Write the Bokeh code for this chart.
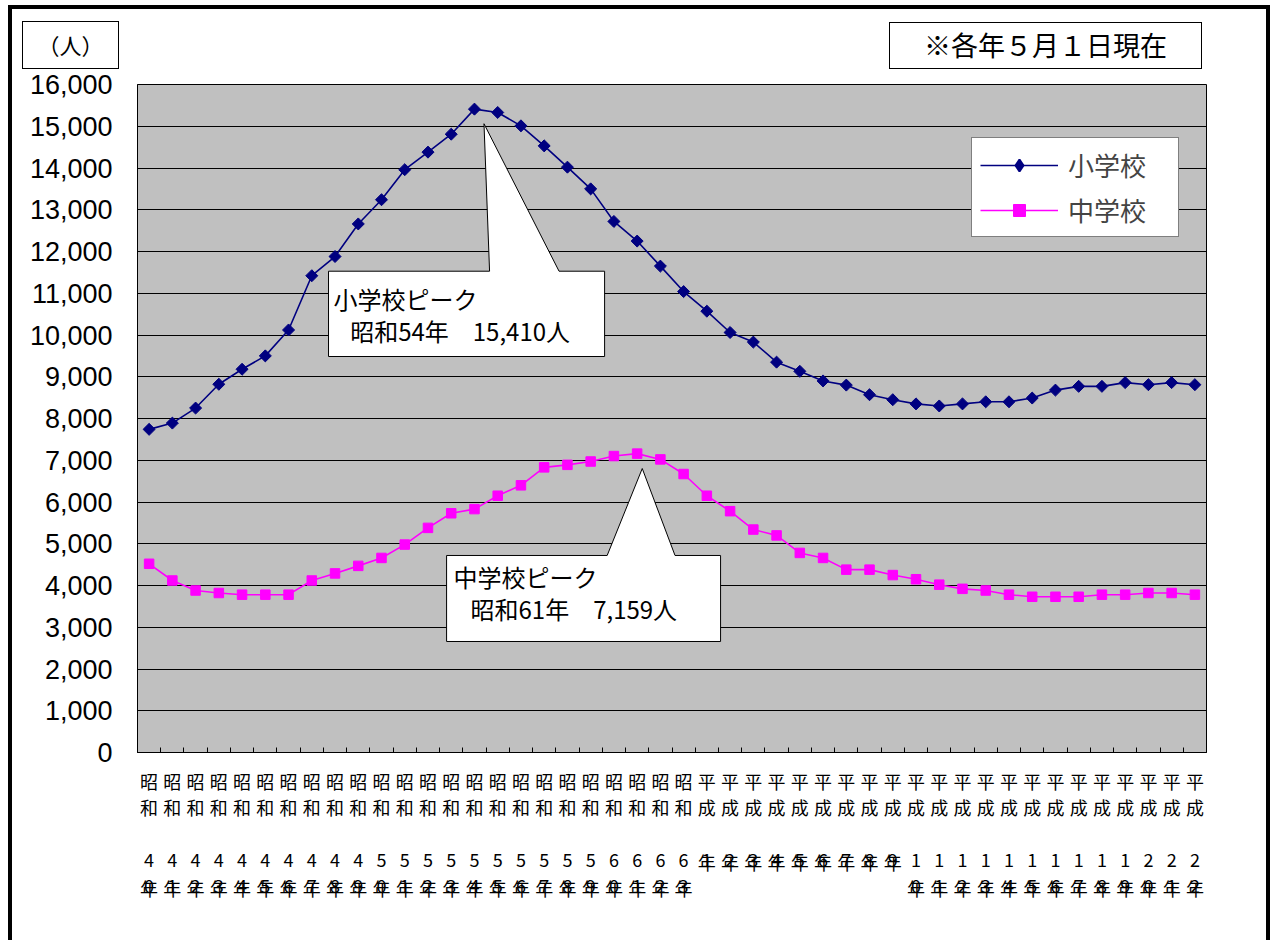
import numpy as np
from bokeh.plotting import figure
from bokeh.layouts import column
from bokeh.models import (Range1d, FixedTicker, NumeralTickFormatter, Legend, LegendItem,
                          LinearAxis, Div)
from bokeh.core.properties import value
from bokeh.embed import file_html
from bokeh.resources import INLINE

# ---- data -------------------------------------------------------------
showa_years = list(range(40, 64))   # 昭和40年 .. 昭和63年
heisei_years = list(range(1, 23))   # 平成1年 .. 平成22年
categories = [f"昭和{n}年" for n in showa_years] + [f"平成{n}年" for n in heisei_years]

elementary = [7740, 7890, 8250, 8820, 9180, 9500, 10120, 11420, 11880, 12660,
              13240, 13960, 14380, 14810, 15410, 15330, 15010, 14530, 14020, 13500,
              12720, 12250, 11650, 11040,
              10570, 10060, 9830, 9350, 9130, 8900, 8800, 8570, 8450, 8350,
              8300, 8350, 8400, 8400, 8490, 8680, 8770, 8770, 8860, 8810, 8860, 8810]
junior = [4520, 4120, 3880, 3820, 3780, 3780, 3780, 4120, 4290, 4470,
          4660, 4980, 5380, 5730, 5830, 6150, 6400, 6830, 6890, 6970,
          7100, 7159, 7020, 6670,
          6150, 5780, 5340, 5200, 4780, 4660, 4380, 4380, 4250, 4150,
          4020, 3920, 3880, 3780, 3730, 3730, 3730, 3780, 3780, 3820, 3820, 3780]
y_ticks = list(range(0, 16001, 1000))
series_names = ["小学校", "中学校"]
unit_label = "（人）"
note_label = "※各年５月１日現在"

JP = "Noto Sans CJK JP"
n = len(categories)
idx = list(range(n))

# ---- header boxes (above the plot area) -------------------------------
box_css = ("position:absolute;box-sizing:border-box;border:1.5px solid black;"
           "background:white;display:flex;align-items:center;justify-content:center;"
           f"font-family:'{JP}';color:black;white-space:nowrap;")
header = Div(width=1254, height=60, margin=(0, 0, 0, 0), text=(
    '<div style="position:relative;width:1254px;height:60px;">'
    f'<div style="{box_css}left:10px;top:12px;width:97px;height:48px;font-size:22px;">{unit_label}</div>'
    f'<div style="{box_css}left:877px;top:13px;width:313px;height:47px;font-size:27px;">{note_label}</div>'
    '</div>'))

# ---- figure -----------------------------------------------------------
p = figure(width=1254, height=871, output_backend="svg", toolbar_location=None,
           x_range=Range1d(-0.5, n - 0.5), y_range=Range1d(0, 16000),
           min_border_left=125, min_border_right=60, min_border_top=15,
           min_border_bottom=188)
p.background_fill_color = "#C0C0C0"
p.outline_line_color = "black"
p.outline_line_width = 1

# x axis: labels stacked vertically, ticks on category boundaries
def stack(cat):
    era, num = cat[:2], cat[2:-1]
    return "\n".join([era[0], era[1], ""] + list(num))

xt = FixedTicker(ticks=idx, minor_ticks=[i - 0.5 for i in range(n + 1)])
xa = p.xaxis[0]
xa.ticker = xt
xa.major_label_overrides = {i: stack(c) for i, c in enumerate(categories)}
xa.major_tick_line_color = None
xa.major_tick_in = 0
xa.major_tick_out = 0
xa.minor_tick_in = 5
xa.minor_tick_out = 0
xa.minor_tick_line_color = "black"
xa.axis_line_color = "black"
xa.major_label_text_font = JP
xa.major_label_text_font_size = "18px"
xa.major_label_text_line_height = 1.0
xa.major_label_standoff = 15
xa.major_label_text_color = "black"

# second row of the stacked labels: the "年" that overlaps the last digit
nen_axis = LinearAxis(ticker=FixedTicker(ticks=idx),
                      major_label_overrides={i: ("年" if len(c) == 4 else "\n年")
                                             for i, c in enumerate(categories)},
                      axis_line_color=None, major_tick_line_color=None,
                      major_tick_in=0, major_tick_out=0,
                      minor_tick_line_color=None, minor_tick_in=0, minor_tick_out=0,
                      major_label_text_font=JP, major_label_text_font_size="18px",
                      major_label_text_line_height=1.0, major_label_standoff=-52,
                      major_label_text_color="black")
p.add_layout(nen_axis, "below")

yt = FixedTicker(ticks=y_ticks)
p.yaxis.ticker = yt
p.ygrid.ticker = yt
p.yaxis.formatter = NumeralTickFormatter(format="0,0")
p.yaxis.major_tick_line_color = None
p.yaxis.major_tick_in = 0
p.yaxis.major_tick_out = 0
p.yaxis.minor_tick_line_color = None
p.yaxis.minor_tick_in = 0
p.yaxis.minor_tick_out = 0
p.yaxis.axis_line_color = "black"
p.yaxis.major_label_text_font = "Liberation Sans"
p.yaxis.major_label_text_font_size = "27px"
p.yaxis.major_label_text_color = "black"
p.yaxis.major_label_standoff = 25
p.ygrid.grid_line_color = "black"
p.ygrid.grid_line_width = 1
p.xgrid.grid_line_color = None

# ---- series -----------------------------------------------------------
l1 = p.line(idx, elementary, line_color="#000080", line_width=1.6)
m1 = p.scatter(idx, elementary, marker="square", angle=np.pi / 4, size=8.5,
               fill_color="#000080", line_color="#000080")
l2 = p.line(idx, junior, line_color="#FF00FF", line_width=1.6)
m2 = p.scatter(idx, junior, marker="square", size=9.5,
               fill_color="#FF00FF", line_color="#FF00FF")
# legend-only diamond (a rotated square is drawn unrotated inside legends)
lg1 = p.scatter(x=[np.nan], y=[np.nan], marker="diamond", size=12,
                fill_color="#000080", line_color="#000080", line_width=2)

legend = Legend(items=[LegendItem(label=series_names[0], renderers=[l1, lg1]),
                       LegendItem(label=series_names[1], renderers=[l2, m2])],
                location=(834, 515), padding=8, margin=0, spacing=8,
                glyph_width=78, glyph_height=30, label_height=30, label_width=102,
                label_standoff=10, label_text_font=JP, label_text_font_size="26px",
                border_line_color="black", border_line_width=1,
                background_fill_color="white", background_fill_alpha=1)
p.add_layout(legend)

# ---- peak callouts ----------------------------------------------------
def callout(pk, box, base, tip_dx, tip_dy, text_pos, lines):
    bl, br, bt, bb = box
    xs = [bl, base[0], pk[0] + tip_dx, base[1], br, br, bl]
    ys = [bt, bt, pk[1] + tip_dy, bt, bt, bb, bb]
    p.patch(xs, ys, fill_color="white", line_color="black", line_width=1)
    p.text(x=[t[0] for t in text_pos], y=[t[1] for t in text_pos], text=lines,
           text_font=value(JP), text_font_size=value("24px"), text_color="black",
           text_align="left", text_baseline="middle")

ie = int(np.argmax(elementary))
ij = int(np.argmax(junior))
callout((ie, elementary[ie]), (7.72, 19.6, 11528, 9485), (14.65, 17.64), 0.41, -350,
        [(7.93, 10874), (8.65, 10108)],
        [series_names[0] + "ピーク", f"{categories[ie]}\u3000{elementary[ie]:,}人"])
callout((ij, junior[ij]), (12.8, 24.59, 4719, 2659), (19.71, 22.63), 0.22, -357,
        [(13.1, 4216), (13.83, 3449)],
        [series_names[1] + "ピーク", f"{categories[ij]}\u3000{junior[ij]:,}人"])

page = column(header, p, spacing=0, styles={
    "margin-left": "8px", "margin-top": "5px",
    "border-left": "4px solid black", "border-top": "4px solid black",
    "border-right": "4px solid black"})

open("out.html", "w").write(file_html(page, INLINE))
